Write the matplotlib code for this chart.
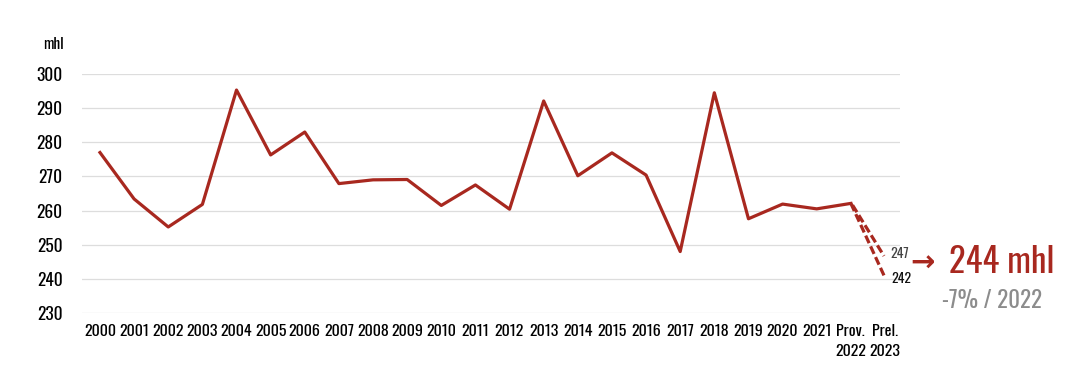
import matplotlib
matplotlib.use("Agg")
import matplotlib.pyplot as plt
from matplotlib import font_manager

names = {f.name for f in font_manager.fontManager.ttflist}
FONT = next((n for n in ["Oswald", "Roboto Condensed", "Barlow Condensed"] if n in names), "DejaVu Sans")
plt.rcParams["font.family"] = [FONT, "DejaVu Sans"]

RED = "#a8281f"
GREY = "#8c8c8c"

years = ["2000", "2001", "2002", "2003", "2004", "2005", "2006", "2007",
         "2008", "2009", "2010", "2011", "2012", "2013", "2014", "2015",
         "2016", "2017", "2018", "2019", "2020", "2021", "Prov.\n2022", "Prel.\n2023"]
values = [277, 263.4, 255.2, 261.8, 295.3, 276.3, 283, 267.9,
          269, 269.1, 261.5, 267.5, 260.4, 292.1, 270.2, 276.9,
          270.4, 248, 294.5, 257.6, 261.9, 260.5, 262.1]
high_2023 = 247
low_2023 = 242

fig = plt.figure(figsize=(10.8, 3.77), dpi=100)
ax = fig.add_axes([82 / 1080, 1 - 313 / 377, (900 - 82) / 1080, (313 - 74) / 377])

x = list(range(len(values)))
ax.plot(x, values, color=RED, lw=2.3, clip_on=False, zorder=3)
# two dashed estimates for 2023
ax.plot([x[-1] + 0.05, x[-1] + 0.97], [values[-1] - 0.5, high_2023 - 0.3], color=RED, lw=2.3,
        ls=(0, (2.6, 1.1)), clip_on=False, zorder=3)
ax.plot([x[-1], x[-1] + 0.98], [values[-1], low_2023 - 1.2], color=RED, lw=2.3,
        ls=(0, (2.6, 1.1)), clip_on=False, zorder=3)

ax.set_xlim(-0.527, 23.44)
ax.set_ylim(230, 300)
ax.set_yticks(range(230, 301, 10))
ax.set_xticks(range(len(years)))
ax.set_xticklabels(years, fontsize=11.5, linespacing=1.4, va="top", fontweight="medium")
for lab in ax.get_yticklabels():
    lab.set_fontsize(12.5)
    lab.set_fontweight("medium")
ax.tick_params(axis="y", length=0, pad=14)
ax.tick_params(axis="x", length=0, pad=8)
ax.grid(axis="y", color="#dddddd", lw=0.9)
ax.set_axisbelow(True)
for s in ax.spines.values():
    s.set_visible(False)

ax.text(-1.05, 308.5, "mhl", fontsize=11, ha="right", va="center", clip_on=False,
        fontweight="medium")

ax.text(23.15, high_2023 + 0.3, str(high_2023), fontsize=10, ha="left", va="center", color="#444444")
ax.text(23.18, low_2023 - 1.8, str(low_2023), fontsize=10, ha="left", va="center", color="#111111",
        fontweight="medium")

fig.text(910 / 1080, 1 - 264 / 377, "\u2192", fontsize=21, color=RED, ha="left", va="center",
         family="DejaVu Sans", fontweight="bold")
fig.text(949 / 1080, 1 - 262 / 377, "244 mhl", fontsize=25, color=RED, ha="left", va="center",
         fontweight="medium")
fig.text(942 / 1080, 1 - 301 / 377, "-7% / 2022", fontsize=16.5, color=GREY, ha="left", va="center",
         fontweight="light")

fig.savefig("out.png", dpi=100)
